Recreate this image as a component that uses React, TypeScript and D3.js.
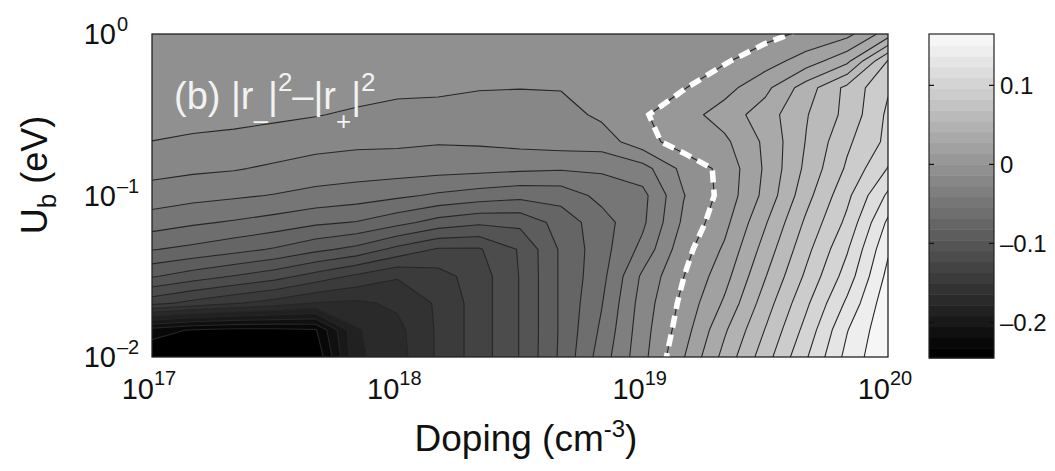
import React from "react";
import * as d3 from "d3";

const FONT = "'Liberation Sans', Arial, Helvetica, sans-serif";

// log10 of the doping (cm^-3) at each grid column
const dopingExp = [
  17, 17.1667, 17.3333, 17.5, 17.6667, 17.8333, 18, 18.1667, 18.3333, 18.5,
  18.6667, 18.8333, 19, 19.1667, 19.3333, 19.5, 19.6667, 19.8333, 20,
];

// log10 of the barrier height U_b (eV) at each grid row, top row first
const ubExp = [
  0, -0.1667, -0.3333, -0.5, -0.6667, -0.8333, -1, -1.1667, -1.3333, -1.5,
  -1.6667, -1.8333, -2,
];

// |r-|^2 - |r+|^2 sampled on the (U_b, doping) grid, one row per U_b value
const reflDiff = [
  [-0.0055, -0.0055, -0.0055, -0.0048, -0.0041, -0.0041, -0.0041, -0.0041, -0.0034, -0.0034, -0.0027, -0.0041, -0.0048, -0.0041, -0.0027, -0.0041, 0.0026, 0.0095, 0.0343],
  [-0.0069, -0.0069, -0.0069, -0.0062, -0.0055, -0.0055, -0.0055, -0.0062, -0.0055, -0.0055, -0.0055, -0.0048, -0.0041, -0.0027, -0.0014, 0.0075, 0.02, 0.0374, 0.0829],
  [-0.0082, -0.0082, -0.0082, -0.0075, -0.0075, -0.0082, -0.011, -0.011, -0.013, -0.0134, -0.013, -0.0069, -0.0027, -0.0007, 0.0088, 0.0237, 0.048, 0.0723, 0.0945],
  [-0.0103, -0.0089, -0.0096, -0.011, -0.013, -0.0158, -0.0175, -0.0189, -0.0193, -0.0195, -0.0189, -0.011, -0.0014, 0.0078, 0.0199, 0.0343, 0.0538, 0.0726, 0.0986],
  [-0.0138, -0.0158, -0.0173, -0.0199, -0.0226, -0.0244, -0.0249, -0.0263, -0.0255, -0.0233, -0.0212, -0.0206, -0.0055, 0.0069, 0.0108, 0.0301, 0.0555, 0.0795, 0.0996],
  [-0.0226, -0.0249, -0.0264, -0.0295, -0.0329, -0.0343, -0.0347, -0.0359, -0.037, -0.0384, -0.0397, -0.0388, -0.0329, -0.0096, 0.0041, 0.0295, 0.0581, 0.0844, 0.1103],
  [-0.0336, -0.0366, -0.039, -0.0418, -0.0452, -0.048, -0.0521, -0.0569, -0.061, -0.0644, -0.063, -0.0507, -0.0452, -0.0144, 0.0048, 0.0315, 0.0637, 0.0925, 0.126],
  [-0.048, -0.0527, -0.0562, -0.0603, -0.0658, -0.0692, -0.0777, -0.0877, -0.0932, -0.0922, -0.0767, -0.0603, -0.0438, -0.011, 0.0096, 0.0397, 0.0712, 0.0993, 0.1397],
  [-0.0678, -0.0719, -0.0774, -0.0836, -0.0925, -0.1, -0.1137, -0.1247, -0.1247, -0.1082, -0.0801, -0.0603, -0.037, -0.0048, 0.0158, 0.0469, 0.0781, 0.1082, 0.1486],
  [-0.0945, -0.1028, -0.1103, -0.1178, -0.1288, -0.1397, -0.1493, -0.1425, -0.1302, -0.1089, -0.0801, -0.0589, -0.0247, -0.0003, 0.0223, 0.0541, 0.0849, 0.1158, 0.1548],
  [-0.1322, -0.1411, -0.1493, -0.1562, -0.1651, -0.1671, -0.1617, -0.1486, -0.1302, -0.1089, -0.0801, -0.0555, -0.0212, 0.0038, 0.0295, 0.0617, 0.0932, 0.126, 0.1603],
  [-0.2261, -0.2343, -0.237, -0.237, -0.2343, -0.1795, -0.1685, -0.1486, -0.1302, -0.1089, -0.0801, -0.0521, -0.0192, 0.0075, 0.039, 0.0692, 0.1007, 0.1363, 0.1623],
  [-0.2452, -0.2452, -0.2452, -0.2452, -0.2452, -0.1808, -0.1699, -0.1486, -0.1302, -0.1089, -0.0795, -0.048, -0.0178, 0.0129, 0.0458, 0.0763, 0.1082, 0.1414, 0.1637],
];

// filled-contour levels
const levels = [
  -0.2329, -0.2192, -0.2055, -0.1918, -0.1781, -0.1644, -0.1507, -0.137,
  -0.1233, -0.1096, -0.0959, -0.0822, -0.0685, -0.0548, -0.0411, -0.0274,
  -0.0137, 0, 0.0137, 0.0274, 0.0411, 0.0548, 0.0685, 0.0822, 0.0959, 0.1096,
  0.1233, 0.137, 0.1507, 0.1644,
];

// colour limits of the gray map
const colorLimits = [-0.245, 0.165];

const xTickExp = [17, 18, 19, 20];
const yTickExp = [0, -1, -2];
const cbarTicks = [0.1, 0, -0.1, -0.2];
const cbarLabels = ["0.1", "0", "\u20130.1", "\u20130.2"];

const PLOT = { left: 152, right: 888, top: 34, bottom: 357 };
const CBAR = { left: 929, right: 994, top: 34, bottom: 358 };

export default function App() {
  const nx = dopingExp.length;
  const ny = ubExp.length;

  const x = d3.scaleLog().domain([1e17, 1e20]).range([PLOT.left, PLOT.right]);
  const y = d3.scaleLog().domain([1e-2, 1]).range([PLOT.bottom, PLOT.top]);
  const cbarY = d3.scaleLinear().domain(colorLimits).range([CBAR.bottom, CBAR.top]);
  const grayScale = d3.scaleLinear().domain(colorLimits).range([0, 255]).clamp(true);
  const shade = (v: number) => {
    const g = Math.round(grayScale(v));
    return `rgb(${g},${g},${g})`;
  };

  const values = reflDiff.flat();
  const bands = d3.contours().size([nx, ny]).thresholds(levels)(values);
  const zeroLine = d3.contours().size([nx, ny]).thresholds([0])(values)[0];

  // contour grid coordinates (sample i sits at i + 0.5) -> pixels via the log scales
  const e0 = dopingExp[0];
  const e1 = dopingExp[nx - 1];
  const u0 = ubExp[0];
  const u1 = ubExp[ny - 1];
  const toPx = (c: number) => x(Math.pow(10, e0 + ((c - 0.5) * (e1 - e0)) / (nx - 1)));
  const toPy = (r: number) => y(Math.pow(10, u0 + ((r - 0.5) * (u1 - u0)) / (ny - 1)));
  const path = d3.geoPath(
    d3.geoTransform({
      point(px: number, py: number) {
        (this as any).stream.point(toPx(px), toPy(py));
      },
    })
  );

  const stripes = [colorLimits[0], ...levels, colorLimits[1]];

  return (
    <svg
      width={1055}
      height={471}
      style={{ position: "absolute", left: 0, top: 0, background: "#fff" }}
      fontFamily={FONT}
    >
      <defs>
        <clipPath id="plot-clip">
          <rect
            x={PLOT.left}
            y={PLOT.top}
            width={PLOT.right - PLOT.left}
            height={PLOT.bottom - PLOT.top}
          />
        </clipPath>
      </defs>

      <g clipPath="url(#plot-clip)">
        <rect
          x={PLOT.left}
          y={PLOT.top}
          width={PLOT.right - PLOT.left}
          height={PLOT.bottom - PLOT.top}
          fill={shade(colorLimits[0])}
        />
        {bands.map((b, i) => (
          <path key={`f${i}`} d={path(b as any) || ""} fill={shade(b.value)} stroke="none" />
        ))}
        {bands.map((b, i) => (
          <path
            key={`l${i}`}
            d={path(b as any) || ""}
            fill="none"
            stroke="#262626"
            strokeWidth={1.1}
            strokeLinejoin="round"
          />
        ))}
        <path
          d={path(zeroLine as any) || ""}
          fill="none"
          stroke="#ffffff"
          strokeWidth={5.5}
          strokeDasharray="12 7"
        />
      </g>

      {/* panel label */}
      <text x={174} y={109} fontSize={38} fill="#f2f2f2">
        (b) |r
        <tspan dy={20} fontSize={26}>{"\u2013"}</tspan>
        <tspan dy={-20}>|</tspan>
        <tspan dy={-18} fontSize={26}>2</tspan>
        <tspan dy={18}>{"\u2013|r"}</tspan>
        <tspan dy={21} fontSize={26}>+</tspan>
        <tspan dy={-21}>|</tspan>
        <tspan dy={-18} fontSize={26}>2</tspan>
      </text>

      <rect
        x={PLOT.left}
        y={PLOT.top}
        width={PLOT.right - PLOT.left}
        height={PLOT.bottom - PLOT.top}
        fill="none"
        stroke="#222"
        strokeWidth={1.3}
      />

      {/* x tick labels */}
      {xTickExp.map((e) => {
        const px = x(Math.pow(10, e));
        return (
          <g key={`xt${e}`} fill="#111">
            <text x={px + 2} y={399} textAnchor="end" fontSize={29}>
              10
            </text>
            <text x={px + 2} y={385} fontSize={20}>
              {e}
            </text>
          </g>
        );
      })}

      {/* y tick labels */}
      {yTickExp.map((e) => {
        const py = y(Math.pow(10, e));
        return (
          <g key={`yt${e}`} fill="#111">
            <text x={116} y={py + 10} textAnchor="end" fontSize={29}>
              10
            </text>
            <text x={117} y={py - 3} fontSize={20}>
              {e < 0 ? `\u2013${-e}` : `${e}`}
            </text>
          </g>
        );
      })}

      {/* axis titles */}
      <text x={526} y={451} textAnchor="middle" fontSize={37} fill="#111">
        Doping (cm
        <tspan dy={-14} fontSize={24}>-3</tspan>
        <tspan dy={14}>)</tspan>
      </text>
      <text
        transform="translate(47,175) rotate(-90)"
        textAnchor="middle"
        fontSize={36}
        fill="#111"
      >
        U<tspan dy={9} fontSize={26}>b</tspan>
        <tspan dy={-9}> (eV)</tspan>
      </text>

      {/* colour bar */}
      {stripes.slice(0, -1).map((v, i) => {
        const top = cbarY(stripes[i + 1]);
        const bottom = cbarY(v);
        return (
          <rect
            key={`cb${i}`}
            x={CBAR.left}
            y={top}
            width={CBAR.right - CBAR.left}
            height={bottom - top + 0.5}
            fill={shade(v)}
          />
        );
      })}
      <rect
        x={CBAR.left}
        y={CBAR.top}
        width={CBAR.right - CBAR.left}
        height={CBAR.bottom - CBAR.top}
        fill="none"
        stroke="#222"
        strokeWidth={1.2}
      />
      {cbarTicks.map((t, i) => {
        const py = cbarY(t);
        return (
          <g key={`ct${i}`}>
            <line x1={CBAR.left} x2={CBAR.left + 5} y1={py} y2={py} stroke="#111" strokeWidth={1.2} />
            <line x1={CBAR.right - 5} x2={CBAR.right} y1={py} y2={py} stroke="#111" strokeWidth={1.2} />
            <text x={1000} y={py + 8.5} fontSize={24} fill="#111">
              {cbarLabels[i]}
            </text>
          </g>
        );
      })}
    </svg>
  );
}
